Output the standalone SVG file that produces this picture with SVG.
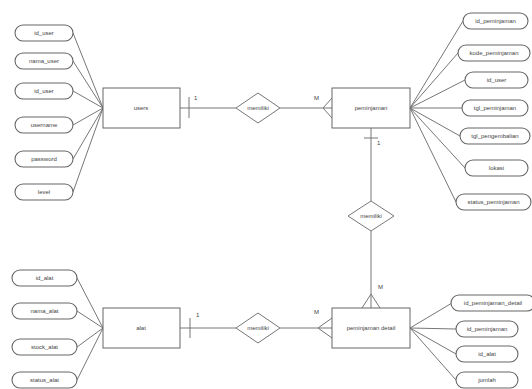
<svg xmlns="http://www.w3.org/2000/svg" width="532" height="389" viewBox="0 0 532 389">
<style>
.ent{fill:#fff;stroke:#666;stroke-width:1}
.att{fill:#fff;stroke:#666;stroke-width:1.1}
.rel{fill:#fff;stroke:#777;stroke-width:1}
.ln{fill:none;stroke:#777;stroke-width:1}
text{font-family:"Liberation Sans",Arial,sans-serif;font-size:6px;fill:#444;text-anchor:middle;dominant-baseline:central}
.card{font-size:6px;text-anchor:start}
</style>
<rect width="532" height="389" fill="#fff"/>
<g id="connectors">
<path class="ln" d="M73 33L103 108M73 61L103 108M73 91L103 108M73 125L103 108M73 159L103 108M73 192L103 108"/>
<path class="ln" d="M410 108L463 21M410 108L458 53M410 108L465 80M410 108L462 108M410 108L460 136M410 108L465 168M410 108L456 202"/>
<path class="ln" d="M77 278L103 328M77 311L103 328M77 347L103 328M77 380L103 328"/>
<path class="ln" d="M410 328L452 303M410 328L456 329M410 328L456 354M410 328L456 380"/>
<path class="ln" d="M180 108L236 108M280 108L332 108"/>
<path class="ln" d="M189 97L189 118M323 108L332 98M323 108L332 118"/>
<text class="card" x="194" y="98">1</text>
<text class="card" x="314" y="98">M</text>
<path class="ln" d="M371 127L371 201M371 231L371 308"/>
<path class="ln" d="M364 138L378 138M371 294L362 308M371 294L380 308"/>
<text class="card" x="377" y="143">1</text>
<text class="card" x="378" y="287">M</text>
<path class="ln" d="M180 328L236 328M280 328L332 328"/>
<path class="ln" d="M190 318L190 338M318 328L332 318M318 328L332 338"/>
<text class="card" x="196" y="315">1</text>
<text class="card" x="314" y="312">M</text>
</g>
<g id="users"><rect class="ent" x="103" y="88" width="77" height="40"/><text x="141" y="108">users</text></g>
<g id="peminjaman"><rect class="ent" x="332" y="88" width="78" height="40"/><text x="371" y="108">peminjaman</text></g>
<g id="alat"><rect class="ent" x="103" y="308" width="77" height="40"/><text x="141" y="328">alat</text></g>
<g id="peminjaman_detail"><rect class="ent" x="332" y="308" width="78" height="40"/><text x="371" y="328">peminjaman detail</text></g>
<g id="rel_users_peminjaman"><polygon class="rel" points="258,93 280,108 258,123 236,108"/><text x="258" y="108">memiliki</text></g>
<g id="rel_peminjaman_detail"><polygon class="rel" points="371,201 394,216 371,231 348,216"/><text x="371" y="216">memiliki</text></g>
<g id="rel_alat_detail"><polygon class="rel" points="258,313 280,328 258,343 236,328"/><text x="258" y="328">memiliki</text></g>
<g id="attr_users">
<g id="u_id_user"><rect class="att" x="15" y="25" width="58" height="16" rx="8"/><text x="44" y="33">id_user</text></g>
<g id="u_nama_user"><rect class="att" x="15" y="53" width="58" height="16" rx="8"/><text x="44" y="61">nama_user</text></g>
<g id="u_id_user2"><rect class="att" x="15" y="83" width="58" height="16" rx="8"/><text x="44" y="91">id_user</text></g>
<g id="u_username"><rect class="att" x="15" y="117" width="58" height="16" rx="8"/><text x="44" y="125">username</text></g>
<g id="u_password"><rect class="att" x="15" y="151" width="58" height="16" rx="8"/><text x="44" y="159">password</text></g>
<g id="u_level"><rect class="att" x="15" y="184" width="58" height="16" rx="8"/><text x="44" y="192">level</text></g>
</g>
<g id="attr_peminjaman">
<g id="p_id_peminjaman"><rect class="att" x="463" y="13" width="65" height="16" rx="8"/><text x="495.5" y="21">id_peminjaman</text></g>
<g id="p_kode_peminjaman"><rect class="att" x="458" y="45" width="72" height="16" rx="8"/><text x="494" y="53">kode_peminjaman</text></g>
<g id="p_id_user"><rect class="att" x="465" y="72" width="63" height="16" rx="8"/><text x="496.5" y="80">id_user</text></g>
<g id="p_tgl_peminjaman"><rect class="att" x="462" y="100" width="66" height="16" rx="8"/><text x="495" y="108">tgl_peminjaman</text></g>
<g id="p_tgl_pengembalian"><rect class="att" x="460" y="128" width="70" height="16" rx="8"/><text x="495" y="136">tgl_pengembalian</text></g>
<g id="p_lokasi"><rect class="att" x="465" y="160" width="63" height="16" rx="8"/><text x="496.5" y="168">lokasi</text></g>
<g id="p_status_peminjaman"><rect class="att" x="456" y="194" width="75" height="16" rx="8"/><text x="493.5" y="202">status_peminjaman</text></g>
</g>
<g id="attr_alat">
<g id="a_id_alat"><rect class="att" x="12" y="270" width="65" height="16" rx="8"/><text x="44.5" y="278">id_alat</text></g>
<g id="a_nama_alat"><rect class="att" x="12" y="303" width="65" height="16" rx="8"/><text x="44.5" y="311">nama_alat</text></g>
<g id="a_stock_alat"><rect class="att" x="12" y="339" width="65" height="16" rx="8"/><text x="44.5" y="347">stock_alat</text></g>
<g id="a_status_alat"><rect class="att" x="12" y="372" width="65" height="16" rx="8"/><text x="44.5" y="380">status_alat</text></g>
</g>
<g id="attr_detail">
<g id="d_id_peminjaman_detail"><rect class="att" x="451" y="295" width="84" height="16" rx="8"/><text x="493" y="303">id_peminjaman_detail</text></g>
<g id="d_id_peminjaman"><rect class="att" x="456" y="321" width="62" height="16" rx="8"/><text x="487" y="329">id_peminjaman</text></g>
<g id="d_id_alat"><rect class="att" x="456" y="346" width="62" height="16" rx="8"/><text x="487" y="354">id_alat</text></g>
<g id="d_jumlah"><rect class="att" x="456" y="372" width="62" height="16" rx="8"/><text x="487" y="380">jumlah</text></g>
</g>
</svg>
